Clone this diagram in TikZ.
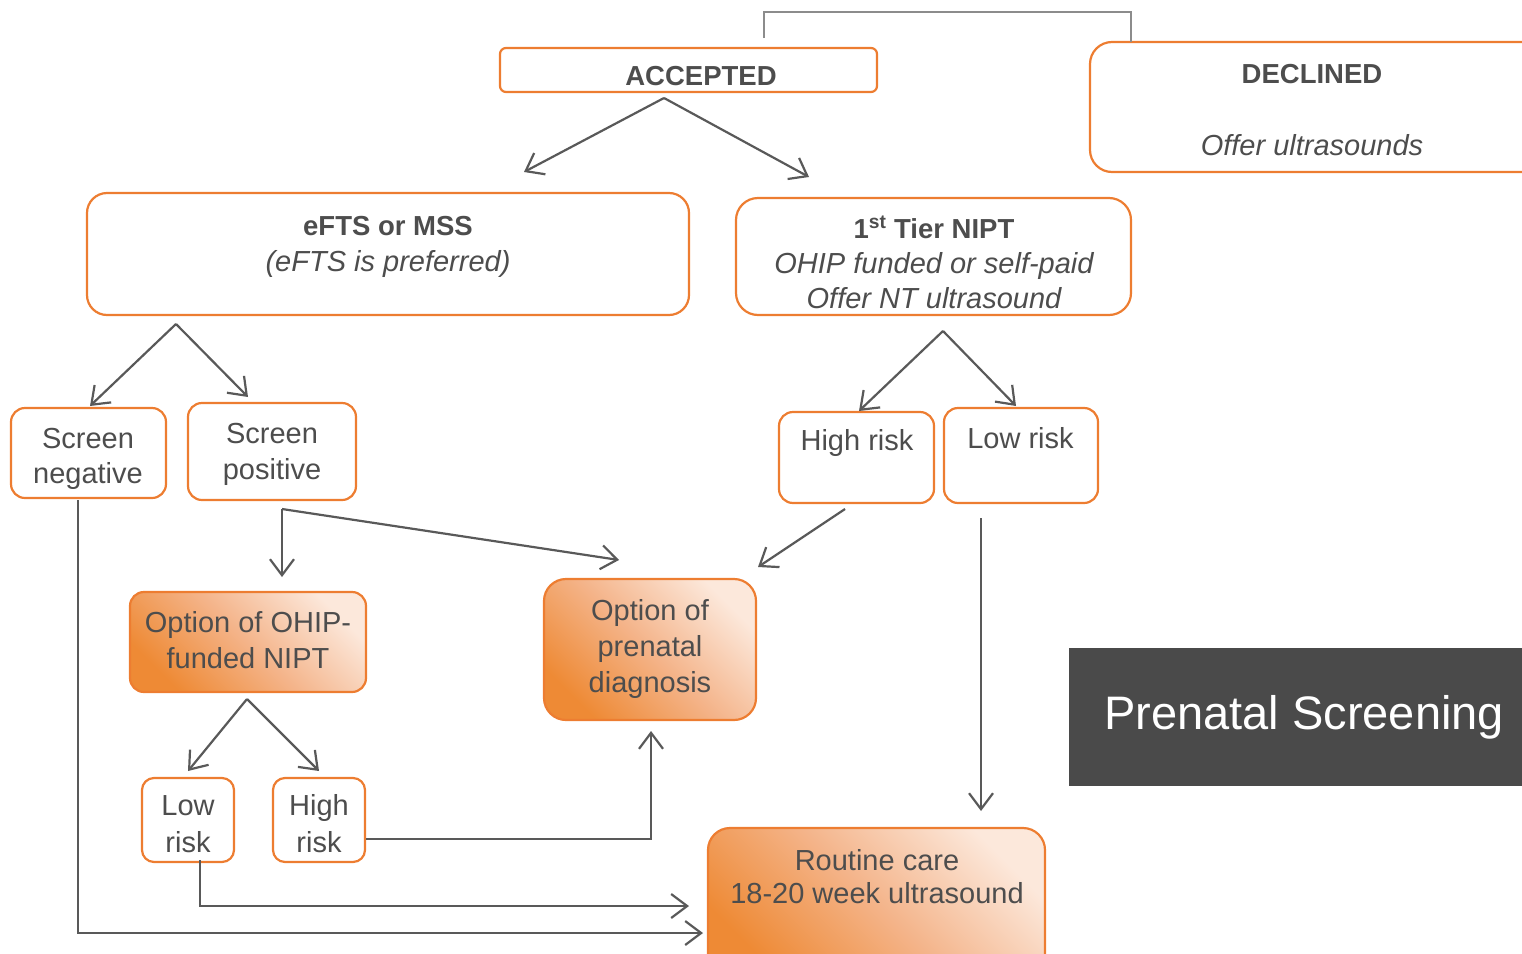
\documentclass[tikz,border=0pt]{standalone}
\usepackage{fontspec}
\setmainfont{Liberation Sans}
\usetikzlibrary{arrows.meta}
\definecolor{org}{HTML}{ED7D31}
\definecolor{txt}{HTML}{4D4D4D}
\definecolor{ln}{HTML}{595959}
\definecolor{gdark}{HTML}{EE8A35}
\definecolor{gmid}{HTML}{F4B48A}
\definecolor{glight}{HTML}{FCE8DB}
\definecolor{banner}{HTML}{4A4A4A}
\tikzset{
  x=1pt,y=-1pt,
  box/.style={draw=org, line width=2.2pt, fill=white, inner sep=0pt, outer sep=0pt},
  gbox/.style={draw=org, line width=2.2pt, inner sep=0pt, outer sep=0pt,
     shade, shading=axis, top color=glight, bottom color=gdark, middle color=gmid, shading angle=-45},
  reg/.style={text=txt, inner sep=0pt, anchor=base, font=\fontsize{29}{36}\selectfont},
  bld/.style={text=txt, inner sep=0pt, anchor=base, font=\fontsize{27.5}{34}\selectfont\bfseries},
  itl/.style={text=txt, inner sep=0pt, anchor=base, font=\fontsize{29}{36}\selectfont\itshape},
  arr/.style={draw=ln, line width=2.2pt, -{Straight Barb[length=16pt,width=24pt,line width=2.2pt]}},
  thin/.style={draw=gray!90, line width=1.3pt},
}
\begin{document}
\begin{tikzpicture}
\useasboundingbox (0,0) rectangle (1522,953);
% boxes
\node[box, rounded corners=6pt, minimum width=377pt, minimum height=44pt] (acc) at (688.5,70) {};
\node[box, rounded corners=22pt, minimum width=460pt, minimum height=130pt] (dec) at (1320,107) {};
\node[box, rounded corners=20pt, minimum width=602pt, minimum height=122pt] (efts) at (388,254) {};
\node[box, rounded corners=22pt, minimum width=395pt, minimum height=117pt] (nipt) at (933.5,256.5) {};
\node[box, rounded corners=14pt, minimum width=155pt, minimum height=90pt] (sneg) at (88.5,453) {};
\node[box, rounded corners=14pt, minimum width=168pt, minimum height=97pt] (spos) at (272,451.5) {};
\node[box, rounded corners=14pt, minimum width=155pt, minimum height=91pt] (hr) at (856.5,457.5) {};
\node[box, rounded corners=14pt, minimum width=154pt, minimum height=95pt] (lr) at (1021,455.5) {};
\node[gbox, rounded corners=14pt, minimum width=236pt, minimum height=100pt] (ohip) at (248,642) {};
\node[gbox, rounded corners=22pt, minimum width=212pt, minimum height=141pt] (pnd) at (650,649.5) {};
\node[box, rounded corners=12pt, minimum width=92pt, minimum height=84pt] (lrs) at (188,820) {};
\node[box, rounded corners=12pt, minimum width=92pt, minimum height=84pt] (hrs) at (319,820) {};
\node[gbox, rounded corners=22pt, minimum width=337pt, minimum height=150pt] (rc) at (876.5,903) {};
\node[fill=banner, inner sep=0pt, minimum width=480pt, minimum height=138pt] (ban) at (1309,717) {};
% texts
\node[bld] (t1) at (701,85) {ACCEPTED};
\node[bld] (t2) at (1312,83) {DECLINED};
\node[itl] (t3) at (1312,155) {Offer ultrasounds};
\node[bld] (t4) at (388,235) {eFTS or MSS};
\node[itl] (t5) at (388,271) {(eFTS is preferred)};
\node[bld] (t6) at (934,238) {1\textsuperscript{st} Tier NIPT};
\node[itl] (t7) at (934,273) {OHIP funded or self-paid};
\node[itl] (t8) at (934,308) {Offer NT ultrasound};
\node[reg] (t9) at (88,448) {Screen};
\node[reg] (t10) at (88,483) {negative};
\node[reg] (t11) at (272,443) {Screen};
\node[reg] (t12) at (272,479) {positive};
\node[reg] (t13) at (857,450) {High risk};
\node[reg] (t14) at (1020.5,448) {Low risk};
\node[reg] (t15) at (248,632) {Option of OHIP-};
\node[reg] (t16) at (248,668) {funded NIPT};
\node[reg] (t17) at (650,620) {Option of};
\node[reg] (t18) at (650,656) {prenatal};
\node[reg] (t19) at (650,692) {diagnosis};
\node[reg] (t20) at (188,815) {Low};
\node[reg] (t21) at (188,852) {risk};
\node[reg] (t22) at (319,815) {High};
\node[reg] (t23) at (319,852) {risk};
\node[reg] (t24) at (877,870) {Routine care};
\node[reg] (t25) at (877,903) {18-20 week ultrasound};
\node[text=white, inner sep=0pt, anchor=base west, font=\fontsize{47}{56}\selectfont] (t26) at (1104,729) {Prenatal Screening};
% coordinates
\coordinate (c1) at (764,38);
\coordinate (c2) at (1131,12);
\coordinate (c3) at (1131,42);
\coordinate (a0) at (664,98);
\coordinate (a1) at (524,172);
\coordinate (a2) at (809,177);
\coordinate (b0) at (176,324);
\coordinate (b1) at (90,406);
\coordinate (b2) at (248,397);
\coordinate (d0) at (943,331);
\coordinate (d1) at (859,411);
\coordinate (d2) at (1016,406);
\coordinate (e0) at (282,509);
\coordinate (e1) at (282,577);
\coordinate (e2) at (619,560);
\coordinate (f0) at (845,509);
\coordinate (f1) at (758,567);
\coordinate (g0) at (981,518);
\coordinate (g1) at (981,811);
\coordinate (h0) at (247,699);
\coordinate (h1) at (188,771);
\coordinate (h2) at (319,771);
\coordinate (i0) at (366,839);
\coordinate (i1) at (651,731);
\coordinate (j0) at (200,860);
\coordinate (j1) at (689,906);
\coordinate (k0) at (78,500);
\coordinate (k1) at (703,933);
% connectors
\draw[thin] (c1) |- (c2) -- (c3);
\draw[arr] (a0) -- (a1);
\draw[arr] (a0) -- (a2);
\draw[arr] (b0) -- (b1);
\draw[arr] (b0) -- (b2);
\draw[arr] (d0) -- (d1);
\draw[arr] (d0) -- (d2);
\draw[arr] (e0) -- (e1);
\draw[arr] (e0) -- (e2);
\draw[arr] (f0) -- (f1);
\draw[arr] (g0) -- (g1);
\draw[arr] (h0) -- (h1);
\draw[arr] (h0) -- (h2);
\draw[arr] (i0) -| (i1);
\draw[arr] (j0) |- (j1);
\draw[arr] (k0) |- (k1);
\end{tikzpicture}
\end{document}
